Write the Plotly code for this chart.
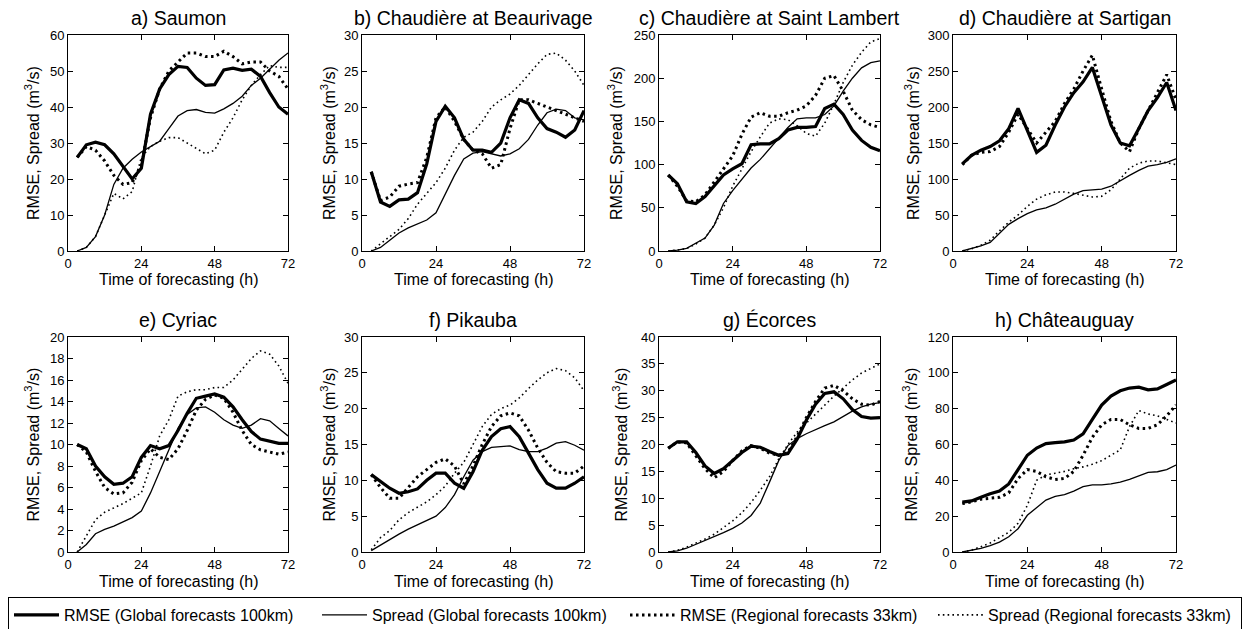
import plotly.graph_objects as go

# ---------------- data ----------------
hours = [3, 6, 9, 12, 15, 18, 21, 24, 27, 30, 33, 36, 39, 42, 45, 48, 51, 54, 57, 60, 63, 66, 69, 72]

titles = ["a) Saumon", "b) Chaudière at Beaurivage", "c) Chaudière at Saint Lambert",
          "d) Chaudière at Sartigan", "e) Cyriac", "f) Pikauba", "g) Écorces", "h) Châteauguay"]

series_names = ["RMSE (Global forecasts 100km)", "Spread (Global forecasts 100km)",
                "RMSE (Regional forecasts 33km)", "Spread (Regional forecasts 33km)"]

# a) Saumon
a_rmse_g = [26, 29.5, 30.2, 29.5, 27, 23.5, 20, 23, 38, 45, 49, 51.3, 51, 48, 46, 46.2, 50.3, 50.8, 50.2, 50.5, 48.5, 44, 40, 38]
a_spread_g = [0, 1, 4, 10, 18.5, 23, 25.5, 27.5, 29, 30.5, 34, 37.5, 39, 39.3, 38.5, 38.3, 39.5, 41, 43, 46, 48, 50.5, 53, 55]
a_rmse_r = [26, 29, 28, 25, 21, 18.5, 19, 24, 37, 45, 50, 52.5, 55, 55, 54, 54, 55.5, 54, 52, 52.5, 52.5, 50, 48.5, 45]
a_spread_r = [0, 1, 4, 10, 16, 14.5, 16.5, 26, 29, 30.5, 31.5, 31.5, 30, 28.5, 27, 28, 33, 37, 42, 46, 49, 51.5, 51, 51]

# b) Chaudière at Beaurivage
b_rmse_g = [11, 6.8, 6.2, 7.1, 7.2, 8.1, 12.1, 18, 20.1, 18.5, 15.5, 14, 14, 13.7, 15, 18.5, 21, 20.5, 18.5, 17, 16.5, 15.8, 16.8, 19.5]
b_spread_g = [0, 0.5, 1.5, 2.5, 3.2, 3.8, 4.3, 5.3, 8, 10.5, 12.8, 13.6, 13.8, 13.5, 13.2, 13.5, 14.2, 15.5, 17.5, 19.2, 19.7, 19.5, 18.5, 18.2]
b_rmse_r = [11, 7, 7.5, 9, 9.3, 9.5, 13, 18.5, 20, 18, 15.5, 14, 13.5, 11.5, 12, 17, 21, 21, 20.5, 20, 19.5, 19, 18.5, 18]
b_spread_r = [0, 1, 2, 3, 4.5, 6.5, 8, 9.5, 11.5, 14, 15.8, 16.5, 18, 20, 21, 21.8, 23, 24.5, 26, 27.3, 27.5, 26.5, 25, 23]

# c) Chaudière at Saint Lambert
c_rmse_g = [88, 78, 57, 55, 63, 75, 88, 95, 101, 123, 124, 124, 130, 140, 143, 143, 144, 165, 170, 158, 140, 128, 120, 116]
c_spread_g = [0, 1, 3, 9, 15, 30, 55, 70, 83, 96, 106, 118, 130, 143, 153, 154, 154, 158, 168, 185, 200, 212, 218, 220]
c_rmse_r = [88, 75, 58, 57, 65, 80, 95, 110, 135, 155, 160, 156, 156, 160, 163, 168, 180, 200, 203, 185, 163, 152, 146, 143]
c_spread_r = [0, 1, 3, 8, 15, 30, 50, 75, 95, 115, 132, 148, 153, 152, 145, 136, 133, 148, 170, 195, 215, 230, 242, 246]

# d) Chaudière at Sartigan
d_rmse_g = [121, 133, 140, 145, 153, 170, 198, 168, 137, 147, 175, 200, 220, 235, 255, 215, 175, 150, 146, 170, 195, 213, 234, 195]
d_spread_g = [0, 3, 7, 12, 25, 37, 45, 52, 57, 60, 65, 72, 79, 84, 85, 86, 90, 98, 105, 112, 118, 120, 123, 128]
d_rmse_r = [120, 133, 137, 138, 145, 165, 190, 170, 150, 165, 180, 205, 225, 250, 272, 225, 180, 150, 138, 170, 195, 220, 245, 210]
d_spread_r = [0, 3, 8, 15, 28, 40, 50, 62, 72, 78, 82, 82, 80, 78, 75, 76, 85, 100, 115, 122, 125, 125, 122, 120]

# e) Cyriac
e_rmse_g = [10, 9.6, 8, 7, 6.3, 6.4, 7, 8.8, 9.9, 9.6, 9.9, 11.3, 12.9, 14.3, 14.5, 14.7, 14.4, 13.5, 12.3, 11.2, 10.5, 10.3, 10.1, 10.1]
e_spread_g = [0, 0.7, 1.7, 2.1, 2.4, 2.8, 3.2, 3.8, 5.5, 7.5, 9.5, 11.5, 12.8, 13.4, 13.5, 13, 12.3, 11.8, 11.5, 11.8, 12.4, 12.2, 11.5, 10.8]
e_rmse_r = [10, 9.3, 7.5, 6, 5.4, 5.5, 6.5, 8.5, 9.6, 8.8, 8.6, 9.6, 11.3, 13.2, 14.2, 14.6, 14.3, 13, 11.3, 10, 9.5, 9.3, 9.1, 9.3]
e_spread_r = [0, 1.5, 3, 3.7, 4.1, 4.5, 5, 5.5, 8, 10.8, 12.3, 14.5, 14.9, 15.1, 15.1, 15.3, 15.3, 16, 17, 18, 18.7, 18.4, 17.3, 15.7]

# f) Pikauba
f_rmse_g = [10.8, 9.8, 8.9, 8.2, 8.4, 8.8, 10, 11, 11, 9.6, 8.9, 11.2, 14.2, 16.1, 17.2, 17.5, 16.1, 13.8, 11.5, 9.6, 8.9, 8.9, 9.6, 10.5]
f_spread_g = [0.2, 1, 1.8, 2.5, 3.2, 3.8, 4.5, 5, 6.2, 8, 10.5, 12.8, 14, 14.6, 14.7, 14.8, 14.3, 14, 14, 14.5, 15.2, 15.4, 14.9, 14.2]
f_rmse_r = [10.8, 9, 7.5, 7.5, 9, 10.5, 11.5, 12.5, 13, 12, 9.5, 12, 15, 17.5, 19, 19.4, 19, 17, 14.5, 12.5, 11.2, 11, 11, 12]
f_spread_r = [0.3, 2, 3, 4.5, 5.5, 6.2, 7, 8, 9.2, 11, 12.5, 15, 17.5, 19.2, 20, 20.5, 21.5, 22.8, 24, 25, 25.6, 25.3, 24.3, 22.5]

# g) Écorces
g_rmse_g = [19.3, 20.5, 20.5, 18.5, 16, 14.6, 15.5, 17, 18.5, 19.7, 19.5, 18.7, 18, 18.3, 21, 24.5, 27.5, 29.5, 29.8, 28.5, 26.5, 25.2, 24.9, 25]
g_spread_g = [0, 0.2, 0.7, 1.4, 2.2, 2.9, 3.6, 4.4, 5.4, 6.8, 9.1, 13, 17, 19.8, 21.1, 22, 22.8, 23.5, 24.2, 25.2, 26.2, 27, 27.5, 27.8]
g_rmse_r = [19.3, 20.5, 20.3, 18, 15.5, 13.8, 15, 17, 18.8, 19.8, 19.3, 18.4, 18, 18.5, 21.5, 25, 28, 30.5, 31, 30, 28.5, 27.5, 27.3, 28]
g_spread_r = [0, 0.3, 0.9, 1.6, 2.4, 3.3, 4.5, 5.8, 7.3, 9.2, 11.5, 14, 17.3, 20, 22.3, 24, 25.6, 27.3, 29, 30.5, 32, 33.3, 34.2, 35]

# h) Châteauguay
h_rmse_g = [27.8, 28.5, 30.5, 32.5, 34, 38, 46, 54, 58, 60.5, 61, 61.5, 62.5, 66, 74, 82, 87, 90, 91.5, 92, 90.5, 91, 93.5, 96]
h_spread_g = [0, 0.8, 2, 3.5, 5.5, 8.5, 13, 20.5, 25, 29, 31, 32, 34, 36.5, 37.5, 37.5, 38, 39, 40.5, 42.5, 44.5, 44.8, 46, 48.5]
h_rmse_r = [27, 28, 29.5, 30, 30.5, 33, 41, 46, 45, 42, 40.5, 41, 45, 54, 64, 71, 74, 74, 71, 69, 69, 71, 76, 82]
h_spread_r = [0, 1, 3, 5, 8, 11, 16, 26, 40, 43, 44, 45, 46.5, 47.5, 49, 51, 54, 57, 70, 79, 77, 76, 74, 72]

panel_data = [
    (a_rmse_g, a_spread_g, a_rmse_r, a_spread_r),
    (b_rmse_g, b_spread_g, b_rmse_r, b_spread_r),
    (c_rmse_g, c_spread_g, c_rmse_r, c_spread_r),
    (d_rmse_g, d_spread_g, d_rmse_r, d_spread_r),
    (e_rmse_g, e_spread_g, e_rmse_r, e_spread_r),
    (f_rmse_g, f_spread_g, f_rmse_r, f_spread_r),
    (g_rmse_g, g_spread_g, g_rmse_r, g_spread_r),
    (h_rmse_g, h_spread_g, h_rmse_r, h_spread_r),
]

y_max = [60, 30, 250, 300, 20, 30, 40, 120]
y_step = [10, 5, 50, 50, 2, 5, 5, 20]
x_ticks = [0, 24, 48, 72]

# ---------------- layout (window pixels) ----------------
# The page body has an 8px margin, so the figure is offset by 8px in the window.
OFF = 8
W, H = 1250 - OFF, 629 - OFF
col_px = [(68, 288), (362, 584), (659, 880), (953, 1176)]
row_px = [(35, 251), (337, 552)]
ytitle_x = [32, 328, 615, 912, 32, 328, 620, 910]

FONT = "Liberation Sans, Arial, sans-serif"

def px(x):
    return (x - OFF) / W

def py(y):
    return 1 - (y - OFF) / H

styles = [
    dict(color="black", width=3.2, dash="solid"),
    dict(color="black", width=1.3, dash="solid"),
    dict(color="black", width=3.0, dash="2.5px,3.5px"),
    dict(color="black", width=1.6, dash="1.6px,3.2px"),
]

fig = go.Figure()
layout = dict(
    width=W, height=H, autosize=False,
    margin=dict(l=0, r=0, t=0, b=0, autoexpand=False),
    paper_bgcolor="white", plot_bgcolor="white",
    font=dict(family=FONT, size=14, color="black"),
    showlegend=True,
)
annotations = []

for i in range(8):
    r, c = divmod(i, 4)
    k = i + 1
    xa = "x" if k == 1 else f"x{k}"
    ya = "y" if k == 1 else f"y{k}"
    x0, x1 = col_px[c]
    y0, y1 = row_px[r]
    axis_common = dict(showline=True, linecolor="black", linewidth=1, mirror="ticks",
                       ticks="inside", ticklen=5, tickwidth=1, tickcolor="black",
                       showgrid=False, zeroline=False,
                       tickfont=dict(family=FONT, size=13, color="black"))
    layout["xaxis" if k == 1 else f"xaxis{k}"] = dict(
        domain=[px(x0), px(x1)], anchor=ya, range=[0, 72],
        tickmode="array", tickvals=x_ticks, ticktext=[str(t) for t in x_ticks],
        **axis_common)
    yt = list(range(0, y_max[i] + 1, y_step[i]))
    layout["yaxis" if k == 1 else f"yaxis{k}"] = dict(
        domain=[py(y1), py(y0)], anchor=xa, range=[0, y_max[i]],
        tickmode="array", tickvals=yt, ticktext=[str(t) for t in yt],
        **axis_common)
    for s in range(4):
        fig.add_trace(go.Scatter(
            x=hours, y=panel_data[i][s], mode="lines", xaxis=xa, yaxis=ya,
            name=series_names[s], line=styles[s], showlegend=(i == 0),
            legendrank=s + 1))
    # panel title
    annotations.append(dict(text=titles[i], xref="paper", yref="paper",
                            x=px((x0 + x1) / 2), y=py(y0 - 17), xanchor="center", yanchor="middle",
                            showarrow=False, font=dict(family=FONT, size=19.5, color="black")))
    # x-axis title
    annotations.append(dict(text="Time of forecasting (h)", xref="paper", yref="paper",
                            x=px((x0 + x1) / 2), y=py(y1 + 29), xanchor="center", yanchor="middle",
                            showarrow=False, font=dict(family=FONT, size=16, color="black")))
    # y-axis title
    annotations.append(dict(text="RMSE, Spread (m<sup>3</sup>/s)", xref="paper", yref="paper",
                            x=px(ytitle_x[i]), y=py((y0 + y1) / 2), xanchor="center", yanchor="middle",
                            textangle=-90, showarrow=False,
                            font=dict(family=FONT, size=16, color="black")))

layout["annotations"] = annotations
layout["legend"] = dict(orientation="h", x=0, y=py(597), xanchor="left", yanchor="top",
                        bordercolor="black", borderwidth=1, bgcolor="white",
                        font=dict(family=FONT, size=16, color="black"),
                        itemwidth=45, entrywidth=248, entrywidthmode="pixels",
                        tracegroupgap=0, traceorder="normal")
fig.update_layout(**layout)
fig.write_html("out.html")
